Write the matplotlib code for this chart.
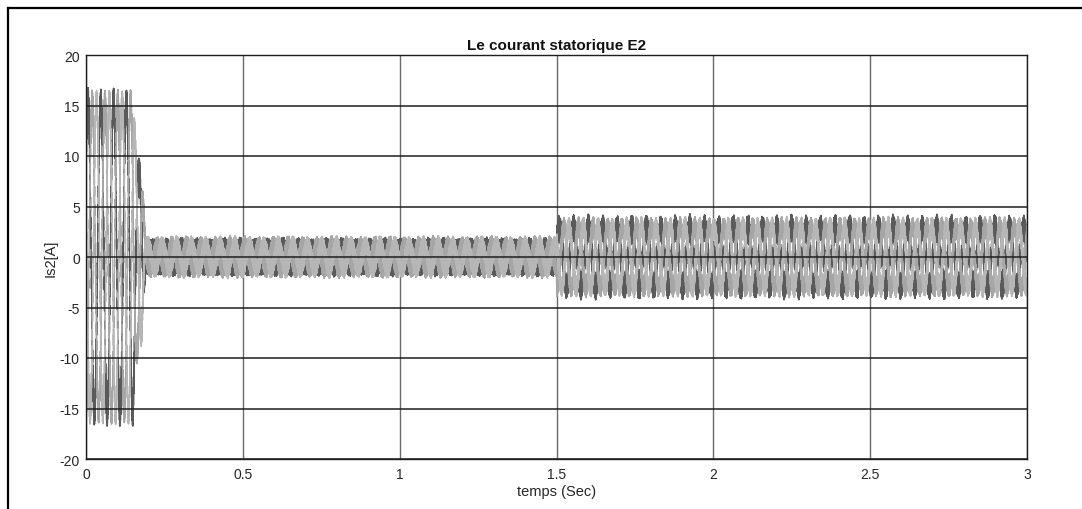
import numpy as np
import matplotlib
matplotlib.use('Agg')
import matplotlib.pyplot as plt
from matplotlib.lines import Line2D

plt.rcParams['font.family'] = ['Liberation Sans', 'DejaVu Sans']

# ---------------- data ----------------
t_end = 3.0
dt = 1e-4                      # simulation step (s)
# fundamental amplitude envelopes (A): dark phase, light phases
env_t      = [0.000, 0.150, 0.160, 0.178, 0.190, 1.500, 1.501, 3.000]
dark_amp   = [15.6, 15.6, 10.0, 7.5, 0.35, 0.35, 2.9, 2.9]
light_amp  = [15.6, 15.6, 10.0, 7.5, 1.20, 1.20, 3.0, 3.0]
# PWM ripple amplitudes (A)
rip_t      = [0.000, 0.190, 0.200, 1.500, 1.501, 3.000]
dark_rip   = [1.30, 1.30, 1.65, 1.65, 1.40, 1.40]
light_rip  = [1.10, 1.10, 0.95, 0.95, 1.05, 1.05]
# electrical frequency (Hz)
freq_t  = [0.000, 0.190, 0.200, 3.000]
freq_hz = [24.5, 24.5, 21.6, 21.6]
ripple_hz = 1200.0
ripple_mod_hz = [170.0, 37.0]
phase_shift_deg = [0.0, -120.0, 120.0]
phase_is_dark = [True, False, False]
phase_colors = ['#5a5a5a', '#a6a6a6', '#b6b6b6']

x_ticks = [0, 0.5, 1, 1.5, 2, 2.5, 3]
x_tick_labels = ['0', '0.5', '1', '1.5', '2', '2.5', '3']
y_ticks = [-20, -15, -10, -5, 0, 5, 10, 15, 20]
y_tick_labels = ['-20', '-15', '-10', '-5', '0', '5', '10', '15', '20']

title = 'Le courant statorique E2'
xlabel = 'temps (Sec)'
ylabel = 'Is2[A]'

# ---------------- build the traces ----------------
t = np.arange(0.0, t_end + dt / 2, dt)
f = np.interp(t, freq_t, freq_hz)
theta = 2 * np.pi * np.cumsum(f) * dt

fig = plt.figure(figsize=(10.82, 5.10), dpi=100)
ax = fig.add_axes([86 / 1082, 1 - 460 / 510, (1027 - 86) / 1082, (460 - 56) / 510])

for k, (sh, dk, col) in enumerate(zip(phase_shift_deg, phase_is_dark, phase_colors)):
    amp = np.interp(t, env_t, dark_amp if dk else light_amp)
    rip = np.interp(t, rip_t, dark_rip if dk else light_rip)
    mod = 0.85 + 0.09 * np.sin(2 * np.pi * ripple_mod_hz[0] * t + k) \
        + 0.06 * np.sin(2 * np.pi * ripple_mod_hz[1] * t + 2 * k)
    ripple = rip * np.sin(2 * np.pi * ripple_hz * t + k * 2.1) * mod
    i_k = amp * np.sin(theta + np.deg2rad(sh) + 0.6) + ripple
    ax.plot(t, i_k, color=col, lw=1.0, zorder=2)

ax.set_xlim(0, 3)
ax.set_ylim(-20, 20)
ax.set_xticks(x_ticks)
ax.set_xticklabels(x_tick_labels)
ax.set_yticks(y_ticks)
ax.set_yticklabels(y_tick_labels)
ax.tick_params(axis='both', labelsize=10, length=0, colors='#262626')
ax.tick_params(axis='x', pad=6)
ax.tick_params(axis='y', pad=4.5)

ax.grid(True)
for gl in ax.get_ygridlines():
    gl.set_color('#1e1e1e')
    gl.set_linewidth(1.1)
for gl in ax.get_xgridlines():
    gl.set_color('#6a6a6a')
    gl.set_linewidth(1.0)
ax.yaxis.set_zorder(3)
ax.xaxis.set_zorder(1)

for sp in ax.spines.values():
    sp.set_color('#1e1e1e')
    sp.set_linewidth(1.0)
    sp.set_zorder(4)

ax.set_title(title, fontsize=11, fontweight='bold', pad=4, color='#111111')
ax.set_xlabel(xlabel, fontsize=10.5, labelpad=2, color='#262626')
ax.set_ylabel(ylabel, fontsize=10.5, labelpad=1, color='#262626')

# outer frame (top and left)
x0 = 8.3 / 1082
y0 = 1 - 9.0 / 510
fig.add_artist(Line2D([x0, x0], [0, y0], transform=fig.transFigure, color='black', lw=1.6))
fig.add_artist(Line2D([x0, 1], [y0, y0], transform=fig.transFigure, color='black', lw=1.6))

fig.savefig('out.png', dpi=100)
